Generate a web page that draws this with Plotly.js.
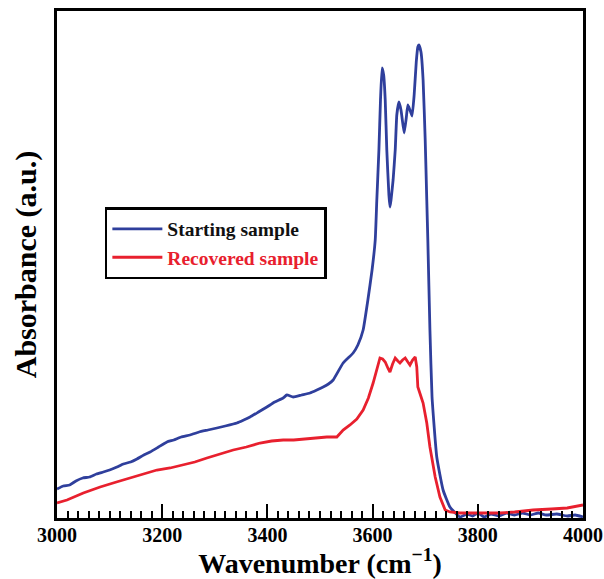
<!DOCTYPE html>
<html>
<head>
<meta charset="utf-8">
<script src="https://cdn.plot.ly/plotly-3.0.1.min.js"></script>
<style>html,body{margin:0;padding:0;background:#fff;}#chart{width:604px;height:579px;}</style>
</head>
<body>
<div id="chart"></div>
<script>
// Starting sample (blue)
const startWn = [3000,3012,3024,3036,3049,3062,3075,3088,3100,3114,3126,3140,3152,3165,3177,3193,3209,3222,3236,3253,3270,3287,3304,3320,3342,3355,3367,3383,3399,3414,3430,3437,3449,3465,3481,3494,3506,3516,3525,3544,3563,3572,3582,3591,3599,3605,3608,3612,3615,3618,3621,3624,3627,3631,3633,3635,3639,3643,3646,3650,3654,3660,3664,3667,3671,3675,3679,3683,3686,3688,3692,3696,3700,3703,3705,3709,3713,3722,3734,3747,3766,3780,3790,3800,3812,3825,3840,3855,3870,3885,3900,3915,3930,3950,3970,3985,4000];
const startAbs = [0.058,0.064,0.066,0.074,0.080,0.082,0.088,0.092,0.096,0.102,0.108,0.112,0.118,0.126,0.132,0.142,0.152,0.156,0.162,0.166,0.172,0.176,0.180,0.184,0.190,0.196,0.202,0.212,0.222,0.232,0.240,0.246,0.242,0.246,0.250,0.256,0.262,0.268,0.276,0.310,0.330,0.346,0.376,0.436,0.496,0.556,0.636,0.736,0.836,0.900,0.886,0.836,0.736,0.646,0.622,0.636,0.676,0.736,0.806,0.832,0.816,0.770,0.800,0.826,0.816,0.804,0.846,0.912,0.942,0.946,0.932,0.876,0.756,0.636,0.556,0.376,0.242,0.122,0.056,0.022,0.002,0.008,0.004,0.010,0.002,0.008,0.004,0.010,0.006,0.010,0.006,0.010,0.006,0.008,0.004,0.006,0.002];

// Recovered sample (red)
const recWn = [3000,3019,3050,3082,3113,3144,3168,3190,3215,3240,3262,3285,3310,3335,3360,3386,3408,3430,3450,3468,3490,3513,3532,3544,3557,3570,3582,3592,3601,3608,3614,3619,3624,3629,3633,3638,3643,3648,3652,3657,3662,3667,3671,3676,3681,3684,3686,3691,3696,3703,3709,3719,3728,3738,3747,3766,3800,3842,3870,3905,3940,3970,4000];
const recAbs = [0.030,0.036,0.050,0.062,0.072,0.082,0.090,0.096,0.100,0.106,0.112,0.120,0.128,0.136,0.142,0.150,0.154,0.156,0.156,0.158,0.160,0.162,0.162,0.176,0.186,0.198,0.216,0.240,0.270,0.296,0.320,0.318,0.312,0.300,0.292,0.308,0.320,0.314,0.310,0.316,0.320,0.312,0.306,0.316,0.322,0.302,0.262,0.246,0.230,0.190,0.142,0.082,0.042,0.016,0.012,0.010,0.010,0.010,0.012,0.016,0.018,0.020,0.026];

const seriesNames = ['Starting sample', 'Recovered sample'];
const xTickVals = [3000,3200,3400,3600,3800,4000];
const xTickText = ['3000','3200','3400','3600','3800','4000'];

const BLUE = '#2f3f9c';
const RED = '#e8202e';
const serif = '"Liberation Serif", "Times New Roman", serif';

const traces = [
  {x: startWn, y: startAbs, mode: 'lines', name: '<span style="color:#111">' + seriesNames[0] + '</span>',
   line: {color: BLUE, width: 2.8, shape: 'spline', smoothing: 0.4}},
  {x: recWn, y: recAbs, mode: 'lines', name: '<span style="color:' + RED + '">' + seriesNames[1] + '</span>',
   line: {color: RED, width: 2.8}}
];

const layout = {
  width: 604, height: 579,
  margin: {l: 57, r: 21, t: 11, b: 61},
  paper_bgcolor: '#fff', plot_bgcolor: '#fff',
  font: {family: serif, color: '#000', weight: 'bold'},
  showlegend: true,
  legend: {
    x: 0.091, y: 0.613, xanchor: 'left', yanchor: 'top',
    bordercolor: '#000', borderwidth: 2.5, bgcolor: '#fff',
    font: {family: serif, size: 19.5, weight: 'bold', color: '#000'},
    itemwidth: 50,
    tracegroupgap: 0
  },
  xaxis: {
    range: [3000, 4000], tickvals: xTickVals, ticktext: xTickText,
    ticks: 'inside', ticklen: 14, tickwidth: 2.2, tickcolor: '#000',
    minor: {dtick: 20, ticks: 'inside', ticklen: 7, tickwidth: 2, tickcolor: '#000'},
    showline: true, linewidth: 3, linecolor: '#000', mirror: true,
    showgrid: false, zeroline: false,
    tickfont: {family: serif, size: 20, weight: 'bold', color: '#000'},
    ticklabelstandoff: -3,
    title: {text: 'Wavenumber (cm<sup>−1</sup>)', font: {family: serif, size: 28, weight: 'bold'}, standoff: 3}
  },
  yaxis: {
    range: [0, 1.014], showticklabels: false, ticks: '',
    showline: true, linewidth: 3, linecolor: '#000', mirror: true,
    showgrid: false, zeroline: false,
    title: {text: 'Absorbance (a.u.)', font: {family: serif, size: 30, weight: 'bold'}, standoff: 9}
  }
};

Plotly.newPlot('chart', traces, layout, {displayModeBar: false, staticPlot: true});
</script>
</body>
</html>
